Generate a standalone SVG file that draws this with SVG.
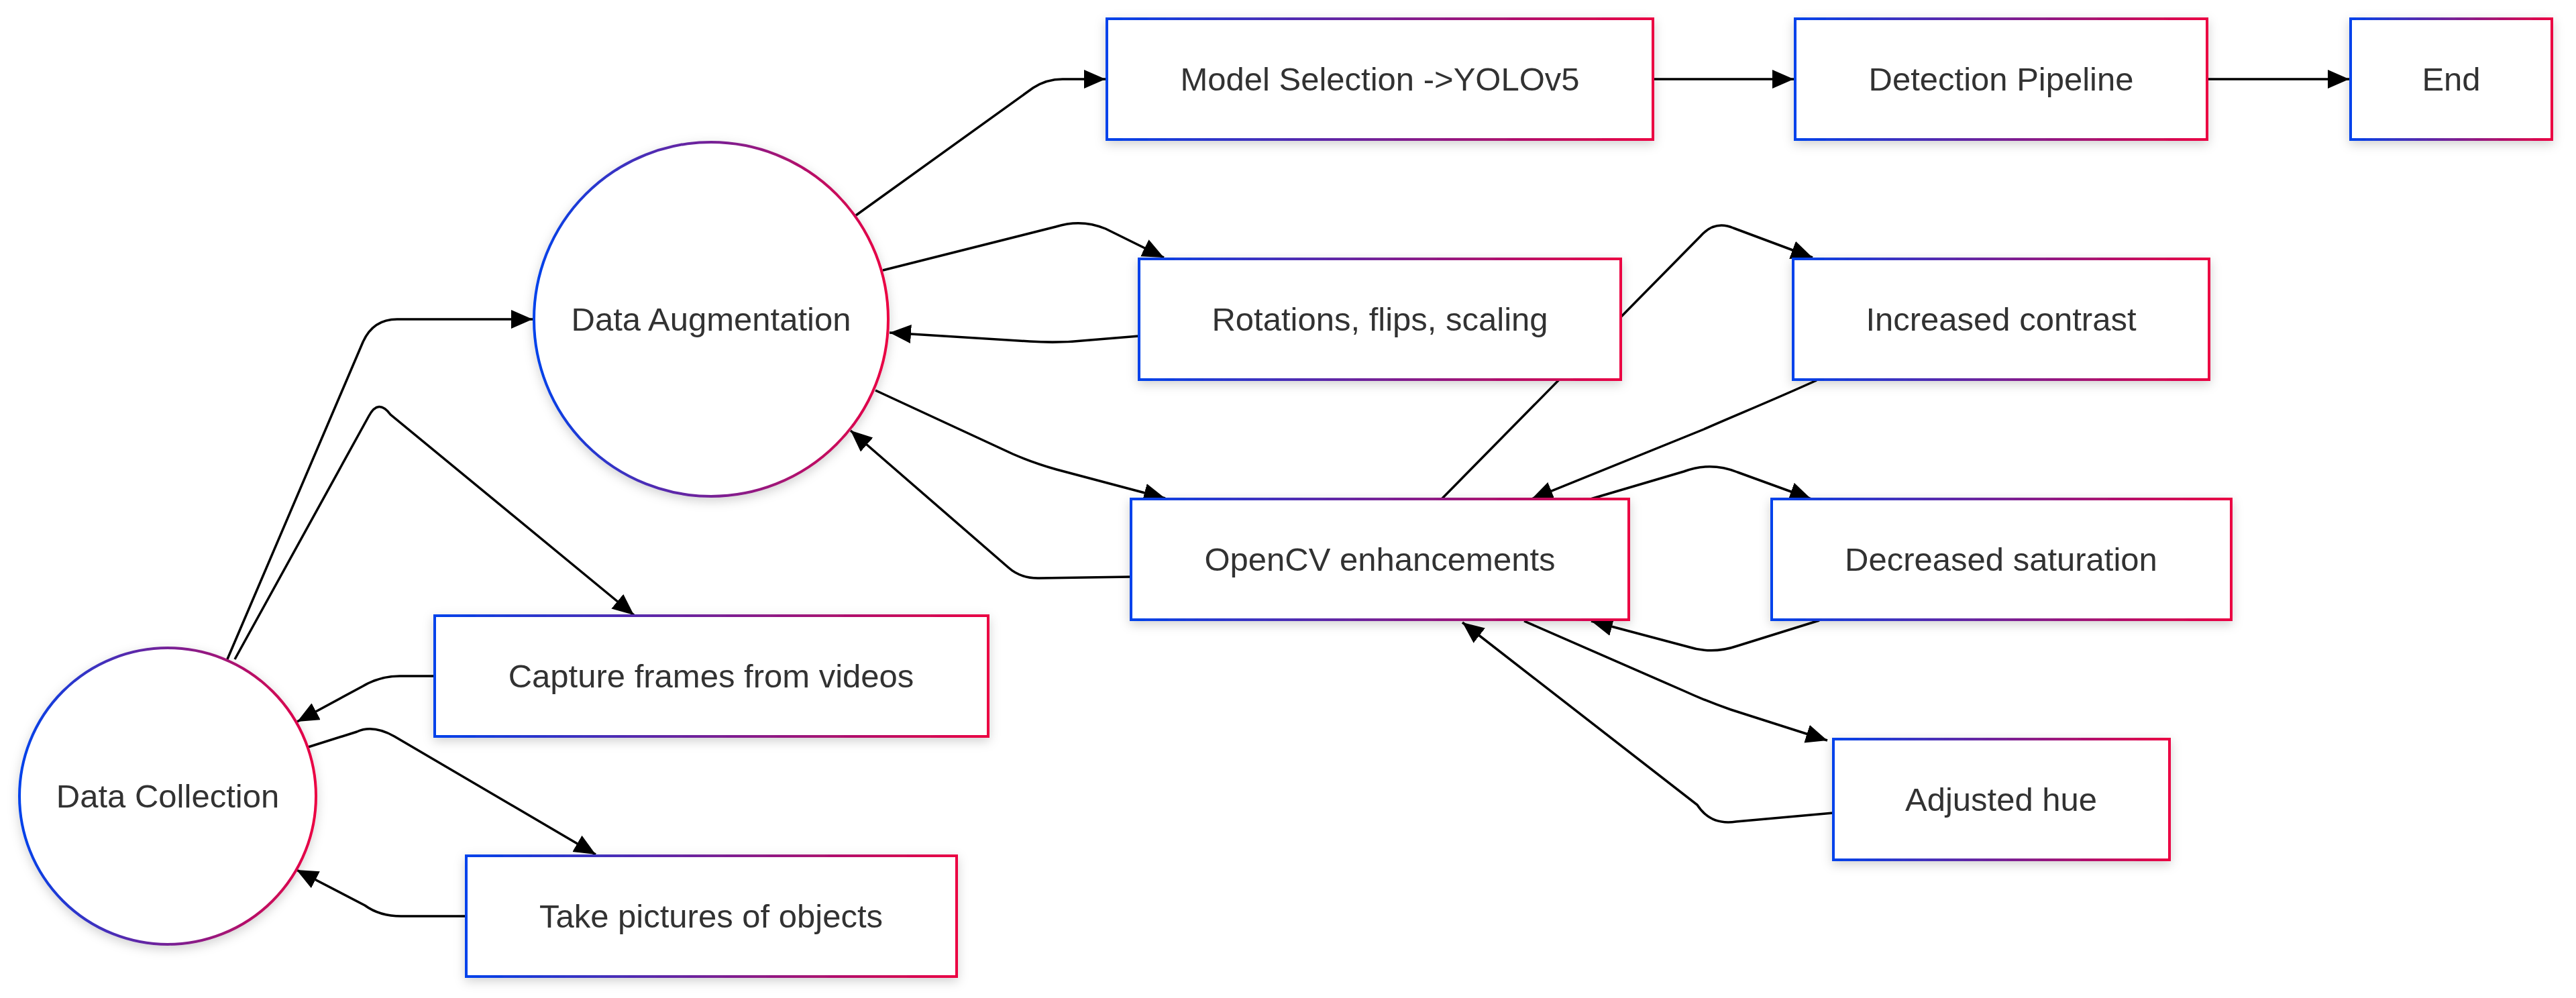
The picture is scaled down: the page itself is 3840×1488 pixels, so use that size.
<svg xmlns="http://www.w3.org/2000/svg" width="3840" height="1488" viewBox="0 0 3840 1488">
<style>
  .node rect, .node circle { fill: #ffffff; stroke: url(#grad); stroke-width: 4; }
  .node { filter: url(#shadow); }
  .node text { font-family: "Liberation Sans", Arial, sans-serif; font-size: 49px; fill: #333333; text-anchor: middle; }
  .edge { fill: none; stroke: #000000; stroke-width: 3.5; marker-end: url(#arrow); }
</style>
<defs>
  <linearGradient id="grad" x1="0" y1="0" x2="1" y2="0">
    <stop offset="0" stop-color="#0042eb"/>
    <stop offset="1" stop-color="#eb0042"/>
  </linearGradient>
  <filter id="shadow" x="-20%" y="-30%" width="140%" height="170%">
    <feDropShadow dx="0" dy="5" stdDeviation="8" flood-color="#000000" flood-opacity="0.18"/>
  </filter>
  <marker id="arrow" markerUnits="userSpaceOnUse" markerWidth="34" markerHeight="30" refX="32" refY="14" orient="auto">
    <path d="M0,0 L32,14 L0,28 z" fill="#000000"/>
  </marker>
</defs>
<rect width="3840" height="1488" fill="#ffffff"/>
<g id="edges">
  <path class="edge" d="M338,985 L541,510 Q556,476 592,476 L794,476"/>
  <path class="edge" d="M350,983 L550,620 Q564,594 582,618 L945,917"/>
  <path class="edge" d="M648,1008 L596,1008 Q566,1008 541,1023 L443,1076"/>
  <path class="edge" d="M459,1114 L532,1091 Q556,1080 588,1098 L888,1274"/>
  <path class="edge" d="M695,1366 L598,1366 Q566,1366 544,1350 L442,1297"/>
  <path class="edge" d="M1276,321 L1540,131 Q1560,118 1584,118 L1648,118"/>
  <path class="edge" d="M2464,118 L2674,118"/>
  <path class="edge" d="M3290,118 L3502,118"/>
  <path class="edge" d="M1316,403 L1574,338 Q1612,326 1648,341 L1735,384"/>
  <path class="edge" d="M1698,501 L1625,507 Q1580,512 1535,509 L1326,496"/>
  <path class="edge" d="M1305,582 L1510,677 Q1540,690 1575,700 L1737,743"/>
  <path class="edge" d="M1686,860 L1550,862 Q1522,863 1503,846 L1268,642"/>
  <path class="edge" d="M2149,744 L2535,352 Q2556,328 2584,340 L2702,384"/>
  <path class="edge" d="M2708,567 C2640,598 2580,622 2540,640 L2283,744"/>
  <path class="edge" d="M2371,744 L2510,703 Q2550,688 2590,704 L2700,744"/>
  <path class="edge" d="M2712,925 L2590,963 Q2552,976 2515,964 L2372,926"/>
  <path class="edge" d="M2272,926 L2510,1030 Q2545,1046 2580,1058 L2724,1104"/>
  <path class="edge" d="M2733,1212 L2588,1225 Q2550,1231 2530,1200 L2180,928"/>
</g>
<g id="node-data-collection" class="node">
  <circle cx="250" cy="1187" r="221"/>
  <text x="250" y="1204">Data Collection</text>
</g>
<g id="node-data-augmentation" class="node">
  <circle cx="1060" cy="476" r="264"/>
  <text x="1060" y="493">Data Augmentation</text>
</g>
<g id="node-capture-frames" class="node">
  <rect x="648" y="918" width="825" height="180"/>
  <text x="1060" y="1025">Capture frames from videos</text>
</g>
<g id="node-take-pictures" class="node">
  <rect x="695" y="1276" width="731" height="180"/>
  <text x="1060" y="1383">Take pictures of objects</text>
</g>
<g id="node-model-selection" class="node">
  <rect x="1650" y="28" width="814" height="180"/>
  <text x="2057" y="135">Model Selection -&gt;YOLOv5</text>
</g>
<g id="node-detection-pipeline" class="node">
  <rect x="2676" y="28" width="614" height="180"/>
  <text x="2983" y="135">Detection Pipeline</text>
</g>
<g id="node-end" class="node">
  <rect x="3504" y="28" width="300" height="180"/>
  <text x="3654" y="135">End</text>
</g>
<g id="node-rotations" class="node">
  <rect x="1698" y="386" width="718" height="180"/>
  <text x="2057" y="493">Rotations, flips, scaling</text>
</g>
<g id="node-increased-contrast" class="node">
  <rect x="2673" y="386" width="620" height="180"/>
  <text x="2983" y="493">Increased contrast</text>
</g>
<g id="node-opencv" class="node">
  <rect x="1686" y="744" width="742" height="180"/>
  <text x="2057" y="851">OpenCV enhancements</text>
</g>
<g id="node-decreased-saturation" class="node">
  <rect x="2641" y="744" width="685" height="180"/>
  <text x="2983" y="851">Decreased saturation</text>
</g>
<g id="node-adjusted-hue" class="node">
  <rect x="2733" y="1102" width="501" height="180"/>
  <text x="2983" y="1209">Adjusted hue</text>
</g>
</svg>
